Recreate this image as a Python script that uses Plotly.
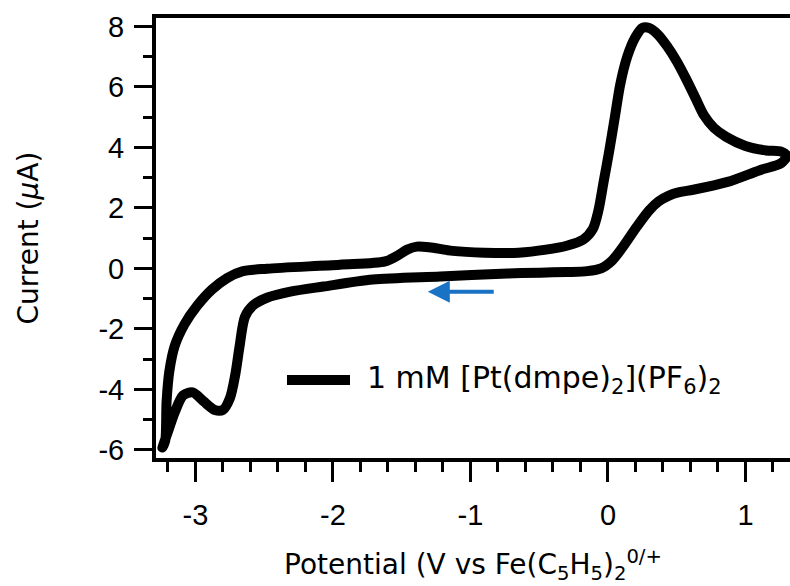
import plotly.graph_objects as go

# Cyclic voltammogram (V vs Fc, µA)
# forward (negative-going) scan, from the right switching point to the left
fwd_potential = [1.30, 1.26, 1.10, 0.87, 0.62, 0.52, 0.44, 0.37, 0.30, 0.21, 0.11, 0.03,
                 -0.05, -0.15, -0.30, -0.49, -0.73, -1.22, -1.71, -2.07, -2.31, -2.48,
                 -2.58, -2.64, -2.68, -2.71, -2.75, -2.80, -2.86, -2.94, -3.02, -3.09,
                 -3.15, -3.20, -3.24]
fwd_current = [3.72, 3.48, 3.24, 2.86, 2.60, 2.52, 2.40, 2.22, 1.92, 1.38, 0.72, 0.26,
               0.00, -0.09, -0.12, -0.14, -0.17, -0.27, -0.37, -0.60, -0.77, -0.97,
               -1.22, -1.60, -2.60, -3.50, -4.30, -4.68, -4.68, -4.40, -4.10, -4.20,
               -4.75, -5.40, -5.92]
# reverse (positive-going) scan
rev_potential = [-3.22, -3.21, -3.19, -3.15, -3.08, -2.99, -2.88, -2.77, -2.66, -2.48,
                 -1.95, -1.62, -1.53, -1.46, -1.39, -1.30, -1.13, -0.90, -0.65, -0.45,
                 -0.30, -0.18, -0.11, -0.07, -0.03, 0.01, 0.05, 0.09, 0.14, 0.20, 0.25,
                 0.30, 0.36, 0.43, 0.50, 0.57, 0.64, 0.70, 0.77, 0.86, 1.00, 1.15, 1.26,
                 1.30]
rev_current = [-5.70, -4.40, -3.40, -2.55, -1.85, -1.25, -0.70, -0.32, -0.10, -0.01,
               0.12, 0.23, 0.42, 0.62, 0.72, 0.70, 0.58, 0.52, 0.52, 0.62,
               0.75, 0.95, 1.30, 1.90, 2.90, 3.90, 5.00, 6.10, 7.00, 7.65, 7.95,
               7.95, 7.75, 7.35, 6.85, 6.25, 5.60, 5.05, 4.65, 4.35, 4.05, 3.90, 3.86,
               3.72]

potential = fwd_potential + rev_potential
current = fwd_current + rev_current

x_ticks = [-3, -2, -1, 0, 1]
y_ticks = [-6, -4, -2, 0, 2, 4, 6, 8]
legend_label = "1 mM [Pt(dmpe)<sub>2</sub>](PF<sub>6</sub>)<sub>2</sub>"
arrow_from, arrow_to, arrow_level = -0.82, -1.31, -0.77

fig = go.Figure()
fig.add_trace(go.Scatter(
    x=potential, y=current, mode="lines",
    line=dict(color="black", width=10, shape="spline", smoothing=0.8),
    name=legend_label, showlegend=False, hoverinfo="skip"))

# scan direction arrow
fig.add_annotation(x=arrow_to, y=arrow_level, ax=arrow_from, ay=arrow_level,
                   xref="x", yref="y", axref="x", ayref="y", text="",
                   showarrow=True, arrowhead=2, arrowsize=1.1, arrowwidth=4,
                   arrowcolor="#1a72c4", standoff=0)

# legend drawn as a sample line + label inside the plot
fig.add_shape(type="line", xref="paper", yref="paper",
              x0=0.2066, x1=0.3060, y0=0.1773, y1=0.1773,
              line=dict(color="black", width=10))
fig.add_annotation(xref="paper", yref="paper", x=0.3297, y=0.1773,
                   xanchor="left", yanchor="middle", showarrow=False,
                   text=legend_label,
                   font=dict(family="DejaVu Sans", size=30, color="black"))

tickfont = dict(family="Liberation Sans", size=29, color="black")
fig.update_xaxes(range=[-3.287, 1.324], tickvals=x_ticks,
                 ticktext=[str(v) for v in x_ticks],
                 ticks="outside", ticklen=20, tickwidth=3, tickcolor="black",
                 minor=dict(dtick=0.2, tick0=0, ticks="outside", ticklen=10,
                            tickwidth=3, tickcolor="black", showgrid=False),
                 showline=True, linewidth=4, linecolor="black", mirror=True,
                 showgrid=False, zeroline=False, tickfont=tickfont,
                 ticklabelstandoff=8,
                 title=dict(text="Potential (V vs Fe(C<sub>5</sub>H<sub>5</sub>)<sub>2</sub><sup>0/+</sup>",
                            font=dict(family="DejaVu Sans", size=28, color="black"),
                            standoff=26))
fig.update_yaxes(range=[-6.27, 8.28], tickvals=y_ticks,
                 ticktext=[str(v) for v in y_ticks],
                 ticks="outside", ticklen=18, tickwidth=3, tickcolor="black",
                 minor=dict(dtick=1, tick0=0, ticks="outside", ticklen=9,
                            tickwidth=3, tickcolor="black", showgrid=False),
                 showline=True, linewidth=4, linecolor="black",
                 showgrid=False, zeroline=False, tickfont=tickfont,
                 ticklabelstandoff=4,
                 title=dict(text="Current (<i>μ</i>A)",
                            font=dict(family="DejaVu Sans", size=28, color="black"),
                            standoff=53))

fig.update_layout(width=790, height=586,
                  margin=dict(l=156, r=0, t=18, b=128),
                  paper_bgcolor="white", plot_bgcolor="white")

fig.write_html("out.html")
